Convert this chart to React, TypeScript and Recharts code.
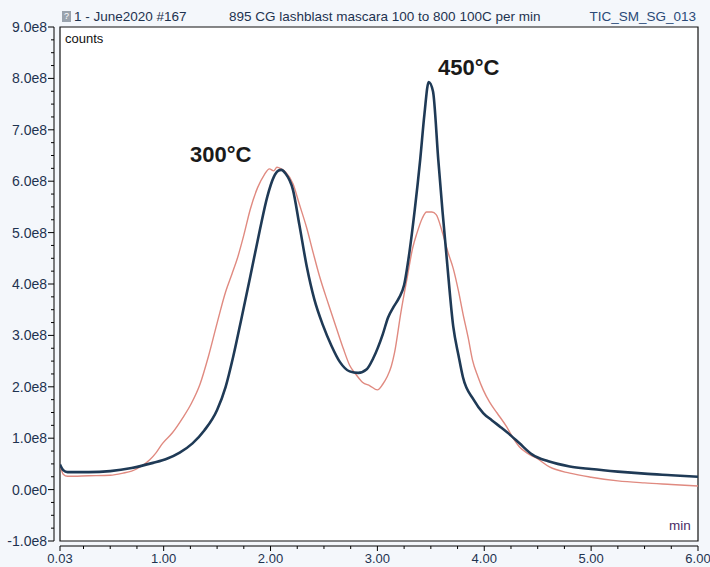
import React from 'react';
import {
  CartesianGrid,
  Line,
  LineChart,
  ReferenceArea,
  XAxis,
  YAxis,
} from 'recharts';

// retention time (min) and TIC counts (x1e8)
const navyTime = [
  0.03, 0.06, 0.1, 0.3, 0.5, 0.7, 0.9, 1.03, 1.15, 1.27, 1.38, 1.5, 1.58, 1.65,
  1.73, 1.81, 1.9, 1.97, 2.03, 2.07, 2.1, 2.14, 2.21, 2.27, 2.34, 2.41, 2.49,
  2.57, 2.65, 2.74, 2.82, 2.9, 2.96, 3.05, 3.1, 3.15, 3.2, 3.25, 3.3, 3.35, 3.4,
  3.44, 3.48, 3.52, 3.57, 3.61, 3.65, 3.71, 3.76, 3.8, 3.9, 3.99, 4.07, 4.15,
  4.25, 4.33, 4.45, 4.6, 4.8, 5.0, 5.25, 5.5, 5.75, 6.0,
];
const navyCounts = [
  0.49, 0.38, 0.34, 0.34, 0.36, 0.42, 0.52, 0.6, 0.72, 0.9, 1.15, 1.55, 2.0,
  2.58, 3.35, 4.14, 5.05, 5.7, 6.08, 6.2, 6.22, 6.15, 5.83, 5.15, 4.33, 3.7,
  3.2, 2.8, 2.48, 2.3, 2.27, 2.34, 2.55, 3.02, 3.35, 3.55, 3.72, 3.98, 4.62,
  5.45, 6.41, 7.3, 7.93, 7.75, 6.41, 5.4, 4.47, 3.17, 2.6, 2.19, 1.75, 1.49,
  1.35, 1.22, 1.05, 0.9, 0.68, 0.55, 0.45, 0.4, 0.35, 0.31, 0.28, 0.25,
];

const salmonTime = [
  0.03, 0.06, 0.1, 0.3, 0.5, 0.62, 0.7, 0.78, 0.87, 0.93, 0.99, 1.08, 1.18,
  1.26, 1.34, 1.42, 1.5, 1.58, 1.64, 1.69, 1.75, 1.81, 1.88, 1.94, 1.99, 2.03,
  2.06, 2.1, 2.14, 2.21, 2.27, 2.34, 2.4, 2.46, 2.54, 2.62, 2.68, 2.74, 2.8,
  2.86, 2.93, 3.0, 3.05, 3.09, 3.13, 3.16, 3.22, 3.28, 3.33, 3.37, 3.42, 3.46,
  3.51, 3.55, 3.61, 3.66, 3.71, 3.76, 3.8, 3.85, 3.89, 3.94, 3.99, 4.05, 4.12,
  4.21, 4.27, 4.33, 4.41, 4.49, 4.61, 4.8, 5.0, 5.25, 5.5, 5.75, 6.0,
];
const salmonCounts = [
  0.49, 0.3, 0.26, 0.27, 0.28, 0.32, 0.36, 0.44, 0.58, 0.72, 0.9, 1.1, 1.4,
  1.68, 2.05, 2.6, 3.24, 3.85, 4.2, 4.5, 4.95, 5.45, 5.88, 6.12, 6.24, 6.2, 6.27,
  6.24, 6.18, 5.95, 5.55, 5.08, 4.6, 4.14, 3.62, 3.12, 2.75, 2.42, 2.24, 2.09,
  2.02, 1.94, 2.05, 2.19, 2.4, 2.66, 3.45, 4.14, 4.7, 4.99, 5.28, 5.4, 5.4,
  5.35, 4.99, 4.62, 4.3, 3.85, 3.43, 2.95, 2.52, 2.2, 1.94, 1.7, 1.49, 1.22,
  1.0, 0.83, 0.7, 0.61, 0.44, 0.32, 0.24, 0.17, 0.13, 0.1, 0.07,
];

const xMajorTicks = [0.03, 1, 2, 3, 4, 5, 6];
const xMinorTicks = [
  0.25, 0.5, 0.75, 1.25, 1.5, 1.75, 2.25, 2.5, 2.75, 3.25, 3.5, 3.75, 4.25, 4.5,
  4.75, 5.25, 5.5, 5.75,
];
const yMajorTicks = [-1, 0, 1, 2, 3, 4, 5, 6, 7, 8, 9];

const navyData = navyTime.map((t, i) => ({ t, c: navyCounts[i] * 1e8 }));
const salmonData = salmonTime.map((t, i) => ({ t, c: salmonCounts[i] * 1e8 }));

const xTicks = [...xMajorTicks, ...xMinorTicks].sort((a, b) => a - b);
const yTicks: number[] = [];
yMajorTicks.forEach((m, i) => {
  yTicks.push(m * 1e8);
  if (i < yMajorTicks.length - 1) {
    [0.25, 0.5, 0.75].forEach((f) => yTicks.push((m + f) * 1e8));
  }
});

const labelColor = '#1e3350';
const font = 'Arial, "Liberation Sans", sans-serif';

const fmtY = (v: number) => {
  const n = v / 1e8;
  if (Math.abs(n) < 1e-9) return '0.0e0';
  return `${n.toFixed(1)}e8`;
};

const YTick = (props: any) => {
  const { x, y, payload } = props;
  const n = payload.value / 1e8;
  const major = Math.abs(n - Math.round(n)) < 1e-6;
  return (
    <g>
      <line x1={x - 6} x2={x - (major ? 12 : 9)} y1={y} y2={y} stroke="#000" />
      {major && (
        <text
          x={x - 13}
          y={y}
          dy={5}
          textAnchor="end"
          fontSize={14}
          fontFamily={font}
          fill={labelColor}
        >
          {fmtY(payload.value)}
        </text>
      )}
    </g>
  );
};

const XTick = (props: any) => {
  const { x, y, payload } = props;
  const v = payload.value;
  const major = xMajorTicks.includes(v);
  return (
    <g>
      <line x1={x} x2={x} y1={y + 5} y2={y + (major ? 10 : 8)} stroke="#000" />
      {major && (
        <text
          x={x}
          y={y + 22}
          textAnchor="middle"
          fontSize={13}
          fontFamily={font}
          fill={labelColor}
        >
          {v === 0.03 ? '0.03' : v.toFixed(2)}
        </text>
      )}
    </g>
  );
};

export default function App() {
  return (
    <div
      style={{
        position: 'absolute',
        left: 0,
        top: 0,
        width: 710,
        height: 567,
        background: '#f4f7fb',
        fontFamily: font,
        overflow: 'hidden',
      }}
    >
      <LineChart
        width={710}
        height={567}
        margin={{ top: 27, right: 12, left: 0, bottom: 0 }}
      >
        <CartesianGrid horizontal={false} vertical={false} fill="#ffffff" />
        <XAxis
          dataKey="t"
          type="number"
          domain={[0.03, 6]}
          ticks={xTicks}
          interval={0}
          height={26}
          tickSize={0}
          tickMargin={0}
          tickLine={false}
          axisLine={{ stroke: '#000', transform: 'translate(0 5)' } as any}
          tick={<XTick />}
          allowDataOverflow
        />
        <YAxis
          type="number"
          domain={[-1e8, 9e8]}
          ticks={yTicks}
          interval={0}
          width={60}
          tickSize={0}
          tickMargin={0}
          tickLine={false}
          axisLine={{ stroke: '#000', transform: 'translate(-6 0)' } as any}
          tick={<YTick />}
          allowDataOverflow
        />
        <ReferenceArea
          x1={0.03}
          x2={6}
          y1={-1e8}
          y2={9e8}
          fill="none"
          stroke="#111"
          strokeWidth={1.2}
        />
        <Line
          data={salmonData}
          dataKey="c"
          type="monotone"
          stroke="#e08a80"
          strokeWidth={1.4}
          dot={false}
          isAnimationActive={false}
        />
        <Line
          data={navyData}
          dataKey="c"
          type="monotone"
          stroke="#1f3a56"
          strokeWidth={2.6}
          dot={false}
          isAnimationActive={false}
        />
      </LineChart>

      <div
        style={{
          position: 'absolute',
          left: 62,
          top: 11,
          width: 9,
          height: 11,
          background: '#9aa3ad',
          color: '#fff',
          fontSize: 9,
          lineHeight: '11px',
          textAlign: 'center',
        }}
      >
        ?
      </div>
      <div style={{ position: 'absolute', left: 74, top: 9, fontSize: 13.5, color: labelColor }}>
        1 - June2020 #167
      </div>
      <div style={{ position: 'absolute', left: 229, top: 9, fontSize: 13.5, color: labelColor }}>
        895 CG lashblast mascara 100 to 800 100C per min
      </div>
      <div style={{ position: 'absolute', right: 14, top: 9, fontSize: 13.5, color: '#2a4a78' }}>
        TIC_SM_SG_013
      </div>
      <div style={{ position: 'absolute', left: 65, top: 31, fontSize: 13, color: '#111' }}>
        counts
      </div>
      <div style={{ position: 'absolute', left: 669, top: 518, fontSize: 13.5, color: '#4a2d66' }}>
        min
      </div>
      <div
        style={{
          position: 'absolute',
          left: 190,
          top: 142,
          fontSize: 22,
          fontWeight: 'bold',
          color: '#1a1a1a',
        }}
      >
        300°C
      </div>
      <div
        style={{
          position: 'absolute',
          left: 438,
          top: 55,
          fontSize: 22,
          fontWeight: 'bold',
          color: '#1a1a1a',
        }}
      >
        450°C
      </div>
    </div>
  );
}
